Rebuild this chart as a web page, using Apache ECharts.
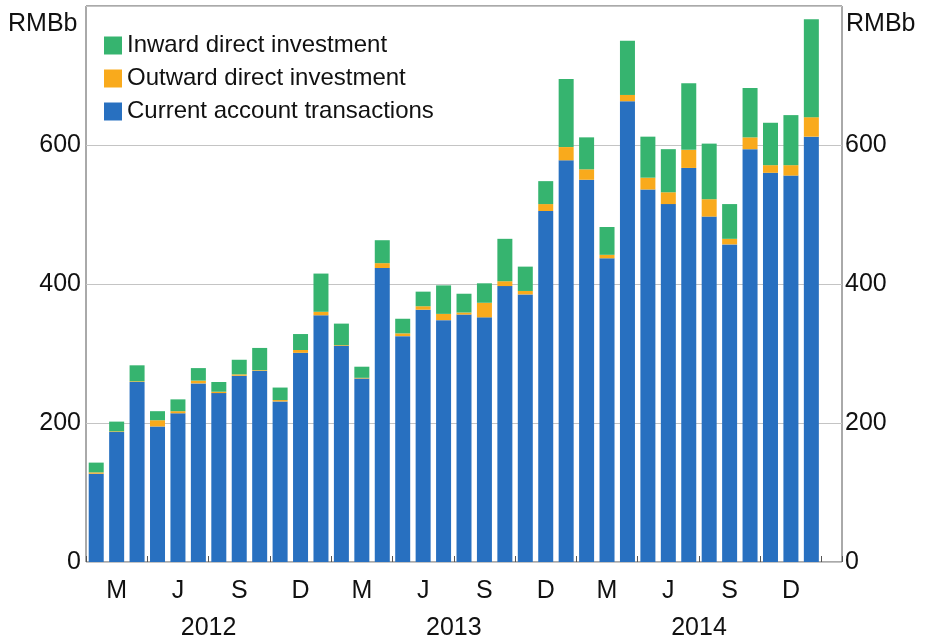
<!DOCTYPE html>
<html>
<head>
<meta charset="utf-8">
<script src="https://cdn.jsdelivr.net/npm/echarts@6/dist/echarts.min.js"></script>
<style>
  html, body { margin: 0; padding: 0; background: #fff; }
  #chart { width: 928px; height: 642px; }
</style>
</head>
<body>
<div id="chart"></div>
<script>
// Months Jan 2012 .. Jan 2015 (last month empty)
const months = [
  '2012-01','2012-02','2012-03','2012-04','2012-05','2012-06','2012-07','2012-08','2012-09','2012-10','2012-11','2012-12',
  '2013-01','2013-02','2013-03','2013-04','2013-05','2013-06','2013-07','2013-08','2013-09','2013-10','2013-11','2013-12',
  '2014-01','2014-02','2014-03','2014-04','2014-05','2014-06','2014-07','2014-08','2014-09','2014-10','2014-11','2014-12',
  '2015-01'
];
const quarterLabels = ['M', 'J', 'S', 'D'];
const years = ['2012', '2013', '2014'];
const yTicks = [0, 200, 400, 600];

const currentAccount = [
  127, 187, 259, 195, 214, 257, 243, 268, 275, 231, 301, 355,
  311, 264, 423, 325, 363, 348, 356, 352, 397, 385, 505, 578,
  550, 437, 663, 536, 515, 567, 497, 457, 594, 560, 556, 612,
  null
];
const outwardDI = [
  2, 1, 1, 9, 3, 4, 2, 2, 1, 2, 4, 5,
  1, 1, 7, 4, 5, 9, 3, 21, 7, 5, 10, 19,
  15, 5, 9, 17, 17, 26, 25, 8, 17, 11, 15, 28,
  null
];
const inwardDI = [
  14, 14, 23, 13, 17, 18, 14, 21, 32, 18, 23, 55,
  31, 16, 33, 21, 21, 41, 27, 28, 61, 35, 33, 98,
  46, 40, 78, 59, 62, 96, 80, 50, 71, 61, 72, 141,
  null
];

const BLUE = '#2870c0';
const ORANGE = '#f9aa1c';
const GREEN = '#36b46f';
const FONT = 'Liberation Sans, Arial, sans-serif';
const TXT = '#111';

const chart = echarts.init(document.getElementById('chart'), null, { renderer: 'canvas' });

const yAxisBase = (pos) => ({
  type: 'value',
  position: pos,
  min: 0,
  max: 800,
  interval: 200,
  axisLine: { show: false },
  axisTick: { show: false },
  splitLine: { show: pos === 'left', lineStyle: { color: '#c4c4c4', width: 1 } },
  axisLabel: {
    fontFamily: FONT,
    fontSize: 25,
    color: TXT,
    margin: pos === 'left' ? 5 : 3,
    formatter: (v) => (yTicks.indexOf(v) >= 0 ? String(v) : '')
  }
});

chart.setOption({
  animation: false,
  backgroundColor: '#fff',
  grid: {
    left: 86, right: 86, top: 6, bottom: 80,
    show: true, borderColor: '#555', borderWidth: 1, backgroundColor: 'transparent'
  },
  legend: {
    orient: 'vertical',
    left: 99,
    top: 28,
    itemWidth: 18,
    itemHeight: 18,
    itemGap: 8,
    icon: 'rect',
    data: ['Inward direct investment', 'Outward direct investment', 'Current account transactions'],
    textStyle: { fontFamily: FONT, fontSize: 24, color: TXT, lineHeight: 25, padding: [0, 0, 0, 0] }
  },
  xAxis: [
    {
      type: 'category',
      data: months,
      boundaryGap: true,
      axisLine: { show: false },
      axisTick: {
        show: true, inside: true, length: 6,
        lineStyle: { color: '#555' },
        interval: (i) => i % 3 === 0
      },
      axisLabel: {
        interval: 0,
        fontFamily: FONT,
        fontSize: 25,
        color: TXT,
        margin: 17,
        formatter: (v, i) => {
          const m = parseInt(v.slice(5), 10);
          return (m % 3 === 2) ? quarterLabels[(m - 2) / 3] : '';
        }
      }
    },
    {
      type: 'value',
      position: 'bottom',
      offset: 40,
      min: 0,
      max: months.length,
      interval: 6,
      axisLine: { show: false },
      axisTick: { show: false },
      splitLine: { show: false },
      axisLabel: {
        fontFamily: FONT,
        fontSize: 25,
        color: TXT,
        margin: 14,
        showMaxLabel: false,
        formatter: (v) => {
          if (v % 12 === 6) {
            const k = (v - 6) / 12;
            return years[k] || '';
          }
          return '';
        }
      }
    }
  ],
  yAxis: [yAxisBase('left'), yAxisBase('right')],
  graphic: [
    { type: 'text', left: 8, top: 12, style: { text: 'RMBb', font: '25px ' + FONT, fill: TXT } },
    { type: 'text', left: 846, top: 12, style: { text: 'RMBb', font: '25px ' + FONT, fill: TXT } }
  ],
  series: [
    {
      name: 'Current account transactions', type: 'bar', stack: 'total',
      data: currentAccount, itemStyle: { color: BLUE }, barWidth: 15
    },
    {
      name: 'Outward direct investment', type: 'bar', stack: 'total',
      data: outwardDI, itemStyle: { color: ORANGE }, barWidth: 15
    },
    {
      name: 'Inward direct investment', type: 'bar', stack: 'total',
      data: inwardDI, itemStyle: { color: GREEN }, barWidth: 15
    }
  ]
});
</script>
</body>
</html>
